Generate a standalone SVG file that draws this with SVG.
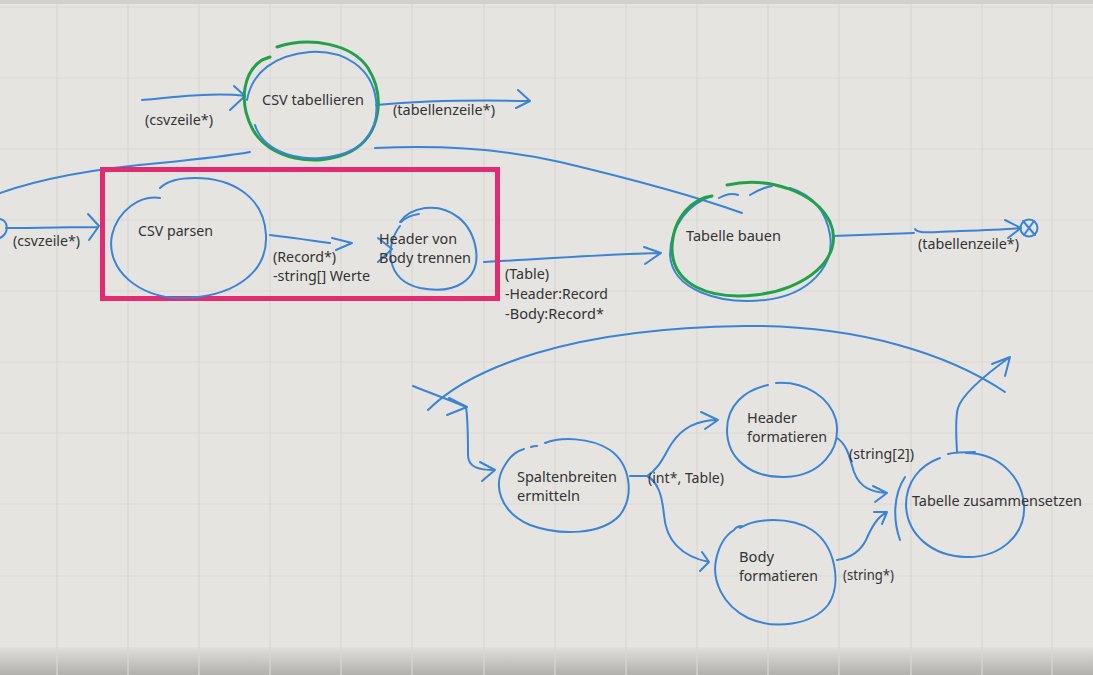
<svg xmlns="http://www.w3.org/2000/svg" width="1093" height="675" viewBox="0 0 1093 675">
  <defs>
    <linearGradient id="bottomShade" x1="0" y1="0" x2="0" y2="1">
      <stop offset="0" stop-color="#dedcd9"/>
      <stop offset="1" stop-color="#b2b0ad"/>
    </linearGradient>
    <style>
      .grid { stroke: #d9d6d3; stroke-width: 1.2; fill: none; }
      .blue { stroke: #3a83d6; stroke-width: 2; fill: none; stroke-linecap: round; stroke-linejoin: round; }
      .green { stroke: #23a04a; stroke-width: 3; fill: none; stroke-linecap: round; stroke-linejoin: round; }
      .frame { stroke: #e12c72; stroke-width: 5; fill: none; }
      text { font-family: "Noto Sans", "Liberation Sans", Arial, sans-serif; font-size: 13.5px; fill: #333333; }
    </style>
  </defs>

  <!-- background -->
  <rect x="0" y="0" width="1093" height="675" fill="#e6e4e1"/>
  <rect x="0" y="649" width="1093" height="26" fill="url(#bottomShade)"/>
  <path class="grid" d="M57,0V675 M128,0V675 M199,0V675 M270,0V675 M341,0V675 M412,0V675 M484,0V675 M555,0V675 M626,0V675 M697,0V675 M768,0V675 M839,0V675 M911,0V675 M982,0V675 M1052,0V675 M0,7H1093 M0,78H1093 M0,149H1093 M0,220H1093 M0,291H1093 M0,362H1093 M0,433H1093 M0,504H1093 M0,576H1093 M0,648H1093"/>
  <rect x="0" y="0" width="1093" height="4" fill="#d2d0cd"/>

  <!-- connectors -->
  <g id="connectors">
    <!-- start marker at left edge -->
    <path class="blue" d="M0,219 C8,220 10,233 0,238"/>
    <!-- start -> CSV parsen -->
    <path class="blue" d="M6,228 C40,228 70,227 98,227 M88,214 L99,226 L89,240"/>
    <!-- top input -> CSV tabellieren -->
    <path class="blue" d="M142,100 C175,97 215,92 245,96 M234,86 L245,96 L230,110"/>
    <!-- CSV tabellieren -> output -->
    <path class="blue" d="M376,105 C420,101 480,100 528,101 M518,90 L530,101 L516,108"/>
    <!-- long line from left to Tabelle bauen -->
    <path class="blue" d="M0,193 C40,179 90,169 160,163 C200,159 228,156 250,152"/>
    <path class="blue" d="M375,148 C440,145 500,148 560,162 C640,181 700,198 742,213"/>
    <!-- CSV parsen -> Header von Body trennen -->
    <path class="blue" d="M270,235 C295,238 315,241 330,243 M332,238 L352,243 L336,250"/>
    <path class="blue" d="M378,238 L392,249 L378,262"/>
    <!-- Header von Body trennen -> Tabelle bauen -->
    <path class="blue" d="M484,262 C560,258 610,254 661,253 M644,247 L661,253 L645,264"/>
    <!-- Tabelle bauen -> end -->
    <path class="blue" d="M833,236 L914,233 M915,229 C918,234 930,232 960,231 C990,230 1008,229 1020,228 M1005,220 L1021,228 L1008,238"/>
    <circle class="blue" cx="1029" cy="228" r="8.5"/>
    <path class="blue" d="M1023,221 L1035,235 M1034,221 L1024,235"/>

    <!-- bottom: big arc -->
    <path class="blue" d="M428,410 C470,368 570,328 745,326 C860,325 950,355 1005,392"/>
    <!-- incoming -> Spaltenbreiten -->
    <path class="blue" d="M413,386 C430,393 450,400 466,407 M449,398 L467,407 L447,415"/>
    <path class="blue" d="M466,407 C468,420 468,440 468,455 C468,468 480,470 495,470 M480,462 L495,470 L482,481"/>
    <!-- Spaltenbreiten -> Header formatieren -->
    <path class="blue" d="M630,476 L647,476 C660,468 664,455 672,443 C682,428 698,420 718,420 M701,412 L718,420 L705,429"/>
    <!-- Spaltenbreiten -> Body formatieren -->
    <path class="blue" d="M647,476 C658,482 662,495 664,515 C666,540 680,556 709,562 M702,552 L709,562 L700,571"/>
    <!-- Header formatieren -> Tabelle zusammensetzen -->
    <path class="blue" d="M837,438 C848,445 850,460 854,472 C860,488 872,492 886,493 M873,486 L887,493 L875,502"/>
    <!-- Body formatieren -> Tabelle zusammensetzen -->
    <path class="blue" d="M837,560 C850,558 860,552 866,540 C872,526 878,516 886,513 M874,512 L887,512 L882,524"/>
    <!-- bracket -->
    <path class="blue" d="M905,477 C893,495 893,520 900,540"/>
    <!-- Tabelle zusammensetzen -> output -->
    <path class="blue" d="M957,452 C956,435 955,418 958,408 C962,395 985,375 1010,357 M992,364 L1010,357 L1005,376"/>

    <!-- labels -->
    <text x="13" y="246" textLength="67" lengthAdjust="spacingAndGlyphs">(csvzeile*)</text>
    <text x="145" y="125" textLength="68" lengthAdjust="spacingAndGlyphs">(csvzeile*)</text>
    <text x="393" y="115" textLength="102" lengthAdjust="spacingAndGlyphs">(tabellenzeile*)</text>
    <text x="273" y="262" textLength="63" lengthAdjust="spacingAndGlyphs">(Record*)</text>
    <text x="273" y="281" textLength="97" lengthAdjust="spacingAndGlyphs">-string[] Werte</text>
    <text x="505" y="279" textLength="44" lengthAdjust="spacingAndGlyphs">(Table)</text>
    <text x="505" y="299" textLength="103" lengthAdjust="spacingAndGlyphs">-Header:Record</text>
    <text x="505" y="319" textLength="99" lengthAdjust="spacingAndGlyphs">-Body:Record*</text>
    <text x="918" y="249" textLength="101" lengthAdjust="spacingAndGlyphs">(tabellenzeile*)</text>
    <text x="648" y="483" textLength="76" lengthAdjust="spacingAndGlyphs">(int*, Table)</text>
    <text x="849" y="459" textLength="65" lengthAdjust="spacingAndGlyphs">(string[2])</text>
    <text x="843" y="580" textLength="51" lengthAdjust="spacingAndGlyphs">(string*)</text>
  </g>

  <!-- highlight frame -->
  <rect class="frame" x="102.5" y="169.5" width="395" height="129"/>

  <g id="csv-tabellieren">
    <path class="green" d="M277,47 C310,36 352,44 368,68 C385,95 382,135 350,152 C318,168 268,160 252,128 C238,100 244,72 262,60 L270,57"/>
    <path class="blue" d="M247,100 C252,72 275,55 310,52 C345,50 372,68 376,100 C380,135 360,155 320,158 C290,160 262,148 255,125"/>
    <text x="262" y="105" textLength="102" lengthAdjust="spacingAndGlyphs">CSV tabellieren</text>
  </g>

  <g id="csv-parsen">
    <path class="blue" d="M160,198 C140,195 118,210 112,235 C105,270 140,298 180,298 C230,298 268,275 266,235 C264,195 230,178 195,178 C178,178 166,182 160,188"/>
    <text x="138" y="236" textLength="75" lengthAdjust="spacingAndGlyphs">CSV parsen</text>
  </g>

  <g id="header-body-trennen">
    <path class="blue" d="M400,226 C385,245 385,280 420,288 C455,295 480,280 476,250 C472,222 450,205 425,208 C412,210 404,216 400,222"/>
    <path class="blue" d="M401,222 C406,217 412,215 419,214"/>
    <text x="379" y="244" textLength="78" lengthAdjust="spacingAndGlyphs">Header von</text>
    <text x="379" y="263" textLength="92" lengthAdjust="spacingAndGlyphs">Body trennen</text>
  </g>

  <g id="tabelle-bauen">
    <path class="blue" d="M712,196 C690,203 670,225 670,255 C672,290 720,305 765,300 C810,295 835,265 830,235 C826,210 812,195 790,188"/>
    <path class="blue" d="M719,198 C726,194 733,193 738,195 M750,195 C758,190 766,187 772,186"/>
    <path class="green" d="M727,185 C770,176 815,192 830,222 C846,258 805,290 755,295 C710,300 672,285 672,248 C673,215 695,198 712,196"/>
    <text x="686" y="241" textLength="95" lengthAdjust="spacingAndGlyphs">Tabelle bauen</text>
  </g>

  <g id="spaltenbreiten-ermitteln">
    <path class="blue" d="M545,443 C560,437 590,437 610,450 C630,464 635,495 620,515 C602,535 560,536 530,525 C500,512 492,485 505,465 C510,456 517,451 524,449"/>
    <path class="blue" d="M531,447 C533,446 535,446 537,446"/>
    <text x="517" y="482" textLength="100" lengthAdjust="spacingAndGlyphs">Spaltenbreiten</text>
    <text x="517" y="501" textLength="63" lengthAdjust="spacingAndGlyphs">ermitteln</text>
  </g>

  <g id="header-formatieren">
    <path class="blue" d="M776,383 C806,381 830,398 836,420 C842,450 820,476 785,477 C750,478 727,458 727,430 C727,405 745,390 768,385"/>
    <text x="747" y="423" textLength="50" lengthAdjust="spacingAndGlyphs">Header</text>
    <text x="747" y="442" textLength="80" lengthAdjust="spacingAndGlyphs">formatieren</text>
  </g>

  <g id="body-formatieren">
    <path class="blue" d="M740,528 C755,518 790,516 812,530 C836,546 842,585 828,605 C812,625 775,630 748,618 C722,605 712,580 716,560 C719,545 726,535 734,530 M734,530 C736,527 739,526 742,526"/>
    <text x="739" y="562" textLength="35" lengthAdjust="spacingAndGlyphs">Body</text>
    <text x="739" y="581" textLength="79" lengthAdjust="spacingAndGlyphs">formatieren</text>
  </g>

  <g id="tabelle-zusammensetzen">
    <path class="blue" d="M966,453 C1000,453 1022,478 1024,505 C1026,535 1000,558 966,557 C932,556 907,535 906,505 C906,482 920,465 940,458"/>
    <path class="blue" d="M948,454 C956,452 966,452 975,452"/>
    <text x="912" y="506" textLength="170" lengthAdjust="spacingAndGlyphs">Tabelle zusammensetzen</text>
  </g>
</svg>
